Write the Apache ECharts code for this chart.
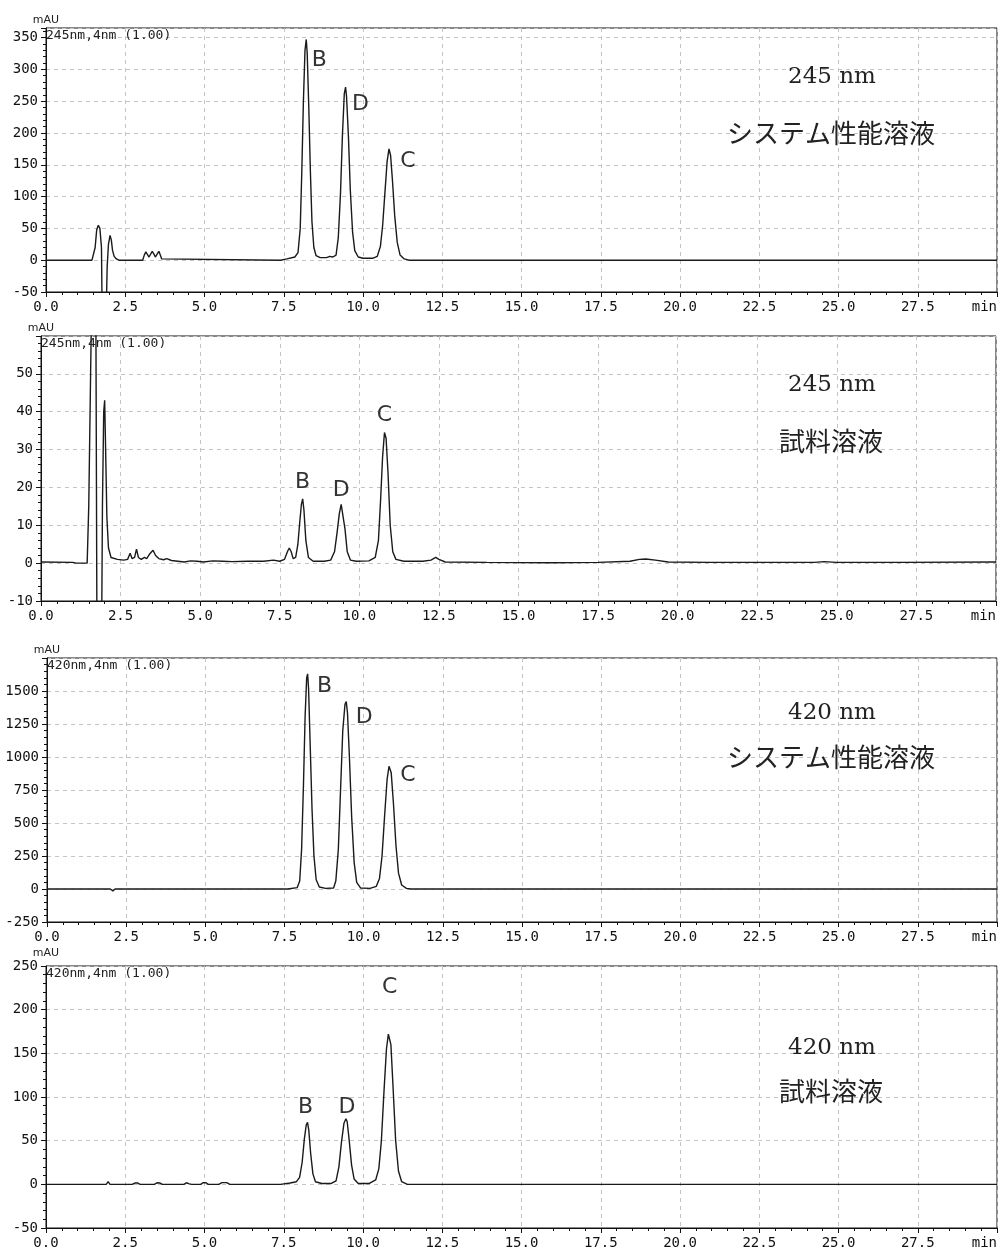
<!DOCTYPE html>
<html><head><meta charset="utf-8">
<script src="https://cdn.jsdelivr.net/npm/echarts@6/dist/echarts.min.js"></script>
<style>html,body{margin:0;padding:0;background:#fff}#c{width:1002px;height:1251px}</style>
</head><body><div id="c"></div>
<script>
// ---------------- DATA ----------------
// retention time (min), absorbance (mAU)
const trace245System = [[0,0],[1.45,0],[1.5,3],[1.55,20],[1.6,48],[1.65,55],[1.7,50],[1.75,20],[1.77,-80],[1.9,-80],[1.93,-10],[1.97,25],[2.02,39],[2.06,32],[2.1,15],[2.15,6],[2.22,2],[2.3,0],[3.05,0],[3.1,8],[3.15,13],[3.2,12],[3.25,5],[3.3,8],[3.35,14],[3.4,10],[3.45,5],[3.5,9],[3.56,14],[3.6,9],[3.65,2],[3.7,0],[7.4,0],[7.6,2],[7.85,5],[7.95,12],[8.02,50],[8.07,140],[8.12,250],[8.17,330],[8.21,347],[8.24,325],[8.29,240],[8.34,140],[8.39,60],[8.45,20],[8.52,7],[8.65,4],[8.85,4],[8.95,6],[9.05,5],[9.15,8],[9.22,35],[9.29,105],[9.35,195],[9.41,262],[9.45,272],[9.48,258],[9.54,195],[9.6,110],[9.67,45],[9.74,15],[9.85,5],[10.0,3],[10.3,3],[10.45,6],[10.55,22],[10.62,55],[10.69,105],[10.76,155],[10.82,175],[10.87,165],[10.93,125],[11.0,70],[11.08,28],[11.17,8],[11.3,2],[11.45,0],[30,0]];
const trace245Sample = [[0,0.3],[1.0,0.2],[1.1,0],[1.45,0],[1.5,15],[1.6,75],[1.72,75],[1.76,-25],[1.9,-25],[1.93,15],[1.97,40],[2.0,43],[2.03,30],[2.07,12],[2.12,4],[2.2,1.5],[2.4,1],[2.6,0.8],[2.72,1],[2.8,2.6],[2.86,1.2],[2.94,1.5],[3.0,3.7],[3.06,1.5],[3.15,1],[3.25,1.5],[3.32,1.2],[3.42,2.5],[3.52,3.4],[3.6,2],[3.7,1.2],[3.85,0.9],[3.95,1.2],[4.1,0.7],[4.3,0.5],[4.5,0.3],[4.7,0.6],[4.9,0.5],[5.1,0.3],[5.4,0.6],[5.7,0.5],[6.0,0.4],[6.5,0.5],[7.0,0.5],[7.3,0.8],[7.5,0.5],[7.65,1],[7.75,3.2],[7.8,4],[7.86,3],[7.92,1.2],[8.0,1.5],[8.07,5],[8.13,11],[8.18,15.5],[8.22,17],[8.26,14],[8.32,6],[8.4,1.5],[8.55,0.5],[8.9,0.5],[9.1,0.8],[9.22,3],[9.3,8],[9.37,13],[9.43,15.5],[9.48,15],[9.55,9],[9.62,3],[9.72,0.8],[9.9,0.5],[10.3,0.6],[10.5,1.5],[10.6,6],[10.67,17],[10.73,28],[10.79,34.5],[10.84,33],[10.9,24],[10.97,10],[11.05,3],[11.15,1],[11.4,0.5],[12.0,0.5],[12.25,0.8],[12.4,1.5],[12.5,1],[12.7,0.3],[14,0.2],[16,0.1],[17.5,0.2],[18.5,0.5],[18.8,1],[19.0,1.1],[19.3,0.8],[19.7,0.3],[21,0.2],[23,0.2],[24.3,0.2],[24.6,0.4],[25,0.2],[27,0.2],[30,0.3]];
const trace420System = [[0,0],[2.0,0],[2.08,-15],[2.15,0],[7.6,0],[7.9,10],[7.98,60],[8.04,300],[8.1,800],[8.15,1300],[8.2,1600],[8.23,1630],[8.26,1520],[8.31,1100],[8.37,600],[8.43,250],[8.5,70],[8.6,15],[8.8,5],[9.05,8],[9.12,60],[9.2,300],[9.27,750],[9.34,1200],[9.41,1400],[9.45,1420],[9.49,1330],[9.55,1000],[9.62,550],[9.7,200],[9.78,50],[9.9,8],[10.2,5],[10.4,20],[10.5,80],[10.58,250],[10.66,550],[10.74,830],[10.8,930],[10.83,940],[10.87,880],[10.94,650],[11.02,330],[11.1,120],[11.2,30],[11.35,5],[11.5,0],[30,0]];
const trace420Sample = [[0,0],[1.9,0],[1.96,3],[2.02,0],[2.72,0],[2.8,1.5],[2.9,1.5],[2.97,0],[3.42,0],[3.5,1.8],[3.6,1.5],[3.67,0],[4.35,0],[4.43,1.8],[4.52,0.5],[4.6,0],[4.88,0],[4.95,1.8],[5.05,1.8],[5.12,0],[5.45,0],[5.55,2],[5.7,2],[5.8,0],[7.4,0],[7.7,1.5],[7.9,3],[8.0,8],[8.08,25],[8.15,52],[8.21,68],[8.25,71],[8.29,62],[8.35,35],[8.42,12],[8.5,3],[8.7,1],[9.0,1],[9.15,4],[9.24,20],[9.32,48],[9.4,70],[9.46,75],[9.5,72],[9.56,52],[9.64,22],[9.72,6],[9.85,1],[10.2,1],[10.4,5],[10.5,18],[10.58,50],[10.66,105],[10.74,155],[10.8,172],[10.84,174],[10.88,160],[10.95,110],[11.03,50],[11.12,15],[11.22,3],[11.4,0],[30,0]];

// peak names with apex (time, height)
const peaks245System = [['B',8.21,347],['D',9.45,272],['C',10.82,175]];
const peaks245Sample = [['B',8.22,17],['D',9.43,15.5],['C',10.79,34.5]];
const peaks420System = [['B',8.23,1630],['D',9.45,1420],['C',10.83,940]];
const peaks420Sample = [['B',8.25,71],['D',9.46,75],['C',10.84,174]];

const channelLabels = ['245nm,4nm (1.00)','245nm,4nm (1.00)','420nm,4nm (1.00)','420nm,4nm (1.00)'];
const wavelengthTitles = ['245 nm','245 nm','420 nm','420 nm'];
const solutionTitles = ['システム性能溶液','試料溶液','システム性能溶液','試料溶液'];
const yUnit = 'mAU';
const xEndLabel = 'min';
const yRanges = [[-50,365,50],[-10,60,10],[-250,1750,250],[-50,250,50]];
const xRange = [0,30,2.5];

// ---------------- LAYOUT ----------------
const grids = [
  {left:46, right:5, top:28, height:264},
  {left:41, right:6, top:336, height:265},
  {left:47, right:5, top:658, height:264},
  {left:46, right:5, top:966, height:262}
];
const labelOffsets = [
  [[13,21],[15,17],[19,12]],
  [[0,-17],[0,-14],[0,-17]],
  [[17,12],[18,16],[18,10]],
  [[-2,-15],[1,-12],[0,-45]]
];
const titleY = [[77,133],[385,441],[713,757],[1048,1091]];
const showMaxY = [false,false,false,true];

const traces = [trace245System, trace245Sample, trace420System, trace420Sample];
const peaks = [peaks245System, peaks245Sample, peaks420System, peaks420Sample];

const monoFont = '"DejaVu Sans Mono", monospace';
const ink = '#1a1a1a';

const chart = echarts.init(document.getElementById('c'), null, {renderer:'canvas'});

const option = {
  animation:false,
  backgroundColor:'#fff',
  grid: grids.map(g => Object.assign({show:true, borderColor:'#111', borderWidth:1, backgroundColor:'transparent'}, g)),
  xAxis: grids.map((g,i) => ({
    type:'value', gridIndex:i, min:xRange[0], max:xRange[1], interval:xRange[2],
    axisLine:{show:true, onZero:false, lineStyle:{color:'#111', width:1}},
    axisTick:{show:true, length:5, lineStyle:{color:'#111'}},
    minorTick:{show:true, splitNumber:5, length:3, lineStyle:{color:'#111'}},
    splitLine:{show:true, lineStyle:{type:[4,4], color:'#c4c4c4', width:1}},
    axisLabel:{fontFamily:monoFont, fontSize:14, color:'#111', margin:8,
      alignMaxLabel:'right',
      formatter: v => (Math.abs(v - xRange[1]) < 1e-9 ? xEndLabel : v.toFixed(1))}
  })),
  yAxis: grids.map((g,i) => ({
    type:'value', gridIndex:i, min:yRanges[i][0], max:yRanges[i][1], interval:yRanges[i][2],
    name:yUnit, nameLocation:'end', nameGap:2,
    nameTextStyle:{fontFamily:'"DejaVu Sans", sans-serif', fontSize:11, color:'#222', align:'center', verticalAlign:'bottom', padding:[0,0,0,0]},
    axisLine:{show:true, onZero:false, lineStyle:{color:'#111', width:1}},
    axisTick:{show:true, length:5, lineStyle:{color:'#111'}},
    minorTick:{show:true, splitNumber:5, length:3, lineStyle:{color:'#111'}},
    splitLine:{show:true, lineStyle:{type:[4,4], color:'#c4c4c4', width:1}},
    axisLabel:{fontFamily:monoFont, fontSize:14, color:'#111', margin:8,
      showMaxLabel:showMaxY[i],
      formatter: v => (Math.abs(v / yRanges[i][2] - Math.round(v / yRanges[i][2])) < 1e-6 ? String(v) : '')}
  })),
  series: traces.map((tr,i) => ({
    type:'line', xAxisIndex:i, yAxisIndex:i, data:tr, showSymbol:false, symbol:'none',
    clip:true, smooth:false,
    lineStyle:{color:ink, width:1.4},
    markPoint:{
      symbol:'circle', symbolSize:1, itemStyle:{color:'rgba(0,0,0,0)'},
      data: peaks[i].map((p,k) => ({
        name:p[0], coord:[p[1],p[2]],
        label:{show:true, position:'inside', formatter:p[0], offset:labelOffsets[i][k],
          fontFamily:'"DejaVu Sans", sans-serif', fontSize:22, color:'#333'}
      }))
    }
  })),
  graphic: [].concat(
    grids.map((g,i) => ({
      type:'text', left:g.left + 0, top:g.top + 1, z:100,
      style:{text:channelLabels[i], font:'13px ' + monoFont, fill:'#222'}
    })),
    grids.map((g,i) => ({
      type:'text', x:832, y:titleY[i][0], z:100,
      style:{text:wavelengthTitles[i], font:'23px "DejaVu Serif", serif', fill:'#222', align:'center', verticalAlign:'middle'}
    })),
    grids.map((g,i) => ({
      type:'text', x:831, y:titleY[i][1], z:100,
      style:{text:solutionTitles[i], font:'26px "Noto Sans CJK JP", sans-serif', fill:'#222', align:'center', verticalAlign:'middle'}
    }))
  )
};
chart.setOption(option);
</script>
</body></html>
